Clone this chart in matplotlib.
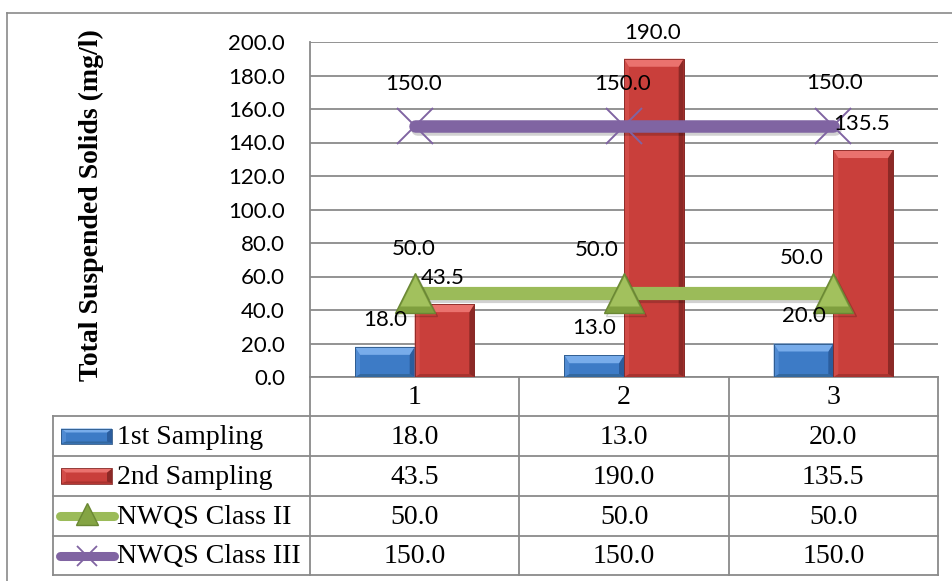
import matplotlib
matplotlib.use("Agg")
import matplotlib.pyplot as plt
import matplotlib.patheffects as pe
from matplotlib.patches import Polygon, Rectangle
from matplotlib.lines import Line2D
import numpy as np

# ---- data -------------------------------------------------------------
categories = ["1", "2", "3"]
first_sampling = [18.0, 13.0, 20.0]
second_sampling = [43.5, 190.0, 135.5]
class_ii = [50.0, 50.0, 50.0]
class_iii = [150.0, 150.0, 150.0]
series_names = ["1st Sampling", "2nd Sampling", "NWQS Class II", "NWQS Class III"]
y_ticks = [0, 20, 40, 60, 80, 100, 120, 140, 160, 180, 200]
y_title = "Total Suspended Solids (mg/l)"

# ---- styling ----------------------------------------------------------
W, H, DPI = 952, 581, 100
GRID = "#8a8a8a"
BLUE = dict(base="#3d7bc6", top="#78acea", left="#4f8ad2", right="#2b5d9d", bottom="#33689f", edge="#2a5585")
RED = dict(base="#c93f3b", top="#ea726e", left="#d24c48", right="#8c2926", bottom="#a8332f", edge="#862825")
GREEN = "#9bbb59"
GREEN_DARK = "#6a8734"
PURPLE = "#8064a2"
NUM_FONT = "Lato"
SERIF = "Liberation Serif"

fig = plt.figure(figsize=(W / DPI, H / DPI), dpi=DPI)
fig.patch.set_facecolor("white")


def fx(px):
    return px / W


def fy(py):
    return 1 - py / H


# outer chart frame (top and left edges)
fig.add_artist(Line2D([fx(7), fx(952)], [fy(13), fy(13)], color=GRID, lw=1.2))
fig.add_artist(Line2D([fx(7), fx(7)], [fy(13), fy(581)], color=GRID, lw=1.2))

# ---- plot area --------------------------------------------------------
PL, PR, PT, PB = 310, 938, 42, 377
ax = fig.add_axes([fx(PL), fy(PB), (PR - PL) / W, (PB - PT) / H])
n = len(categories)
ax.set_xlim(0.5, n + 0.5)
ax.set_ylim(0, 200)
ax.set_yticks(y_ticks)
ax.set_yticklabels([f"{v:.1f}" for v in y_ticks], fontfamily=NUM_FONT, fontsize=16)
ax.tick_params(axis="y", length=0, pad=18)
ax.set_xticks([])
ax.grid(axis="y", color=GRID, lw=1.3)
ax.set_axisbelow(True)
for s in ["top", "right"]:
    ax.spines[s].set_visible(False)
for s in ["left", "bottom"]:
    ax.spines[s].set_color(GRID)
    ax.spines[s].set_linewidth(1.3)

fig.text(fx(91), fy(205), y_title, rotation=90, ha="center", va="center",
         family=SERIF, weight="bold", fontsize=20)

# pixel scale of the data axes
(ox, oy), (ux, uy) = ax.transData.transform([(0, 0), (1, 1)])
PX_X, PX_Y = ux - ox, uy - oy

x = np.arange(1, n + 1)
bw = 0.285


def bevel_polys(x0, x1, y0, y1, side, top, bottom, pal):
    top = min(top, (y1 - y0) / 2.2)
    bottom = min(bottom, (y1 - y0) / 4)
    return [
        ([(x0, y0), (x1, y0), (x1, y1), (x0, y1)], pal["base"]),
        ([(x0, y0), (x1, y0), (x1 - side, y0 + bottom), (x0 + side, y0 + bottom)], pal["bottom"]),
        ([(x0, y0), (x0, y1), (x0 + side, y1 - top), (x0 + side, y0 + bottom)], pal["left"]),
        ([(x1, y0), (x1, y1), (x1 - side, y1 - top), (x1 - side, y0 + bottom)], pal["right"]),
        ([(x0, y1), (x1, y1), (x1 - side, y1 - top), (x0 + side, y1 - top)], pal["top"]),
    ]


def draw_bars(xs, values, pal):
    bars = ax.bar(xs, values, bw, color=pal["base"], edgecolor=pal["edge"], lw=0.6, zorder=3)
    for b in bars:
        x0 = b.get_x()
        x1 = x0 + b.get_width()
        h = b.get_height()
        for pts, col in bevel_polys(x0, x1, 0, h, 5 / PX_X, 8 / PX_Y, 3 / PX_Y, pal):
            ax.add_patch(Polygon(pts, closed=True, facecolor=col, edgecolor="none", zorder=3.1))
        ax.add_patch(Rectangle((x0, 0), x1 - x0, h, fill=False, edgecolor=pal["edge"], lw=0.6, zorder=3.2))
    return bars


bars1 = draw_bars(x - bw / 2, first_sampling, BLUE)
bars2 = draw_bars(x + bw / 2, second_sampling, RED)

shadow = [pe.SimpleLineShadow(offset=(1.5, -2), alpha=0.18, shadow_color="black"), pe.Normal()]

# NWQS Class III line
ax.plot(x, class_iii, color=PURPLE, lw=9, solid_capstyle="round", zorder=4, path_effects=shadow)
ax.plot(x, class_iii, ls="none", marker="x", ms=26, mew=1.4, mec=PURPLE, zorder=4.1)

# NWQS Class II line
ax.plot(x, class_ii, color=GREEN, lw=9.5, solid_capstyle="round", zorder=4, path_effects=shadow)
ax.plot(x, class_ii, ls="none", marker="^", ms=29, mfc="#7f9f3e", mec=GREEN_DARK, mew=1.0, zorder=4.2,
        path_effects=shadow)
ax.plot(x, class_ii, ls="none", marker="^", ms=21, mfc="#a2c15d", mec="none", zorder=4.3,
        transform=ax.transData + matplotlib.transforms.ScaledTranslation(0, 2 / DPI, fig.dpi_scale_trans))

# ---- data labels ------------------------------------------------------
lbl = dict(fontfamily=NUM_FONT, fontsize=16, ha="center", va="center", zorder=6,
           textcoords="offset points", annotation_clip=False)
PT_PER_PX = 72 / DPI
for b, v in zip(bars1, first_sampling):
    ax.annotate(f"{v:.1f}", (b.get_x() + b.get_width() / 2, v), xytext=(0, 27 * PT_PER_PX), **lbl)
for b, v in zip(bars2, second_sampling):
    ax.annotate(f"{v:.1f}", (b.get_x() + b.get_width() / 2, v), xytext=(-1, 26 * PT_PER_PX), **lbl)

class_ii_label_shift = [(-1, 44), (-27, 43), (-32, 35)]
class_iii_label_shift = [(-1, 42), (-1, 42), (1, 43)]
for xi, v, (sx, sy) in zip(x, class_ii, class_ii_label_shift):
    ax.annotate(f"{v:.1f}", (xi, v), xytext=(sx * PT_PER_PX, sy * PT_PER_PX), **lbl)
for xi, v, (sx, sy) in zip(x, class_iii, class_iii_label_shift):
    ax.annotate(f"{v:.1f}", (xi, v), xytext=(sx * PT_PER_PX, sy * PT_PER_PX), **lbl)

# ---- data table -------------------------------------------------------
col_edges = [ax.transData.transform((xi - 0.5, 0))[0] for xi in list(x) + [n + 1]]
row_edges = [PB, 416, 456, 496, 536, 575]
KEY_LEFT = 53


def hline(y, x0, x1):
    fig.add_artist(Line2D([fx(x0), fx(x1)], [fy(y), fy(y)], color=GRID, lw=1.3))


def vline(xp, y0, y1):
    fig.add_artist(Line2D([fx(xp), fx(xp)], [fy(y0), fy(y1)], color=GRID, lw=1.3))


for ce in col_edges:
    vline(ce, row_edges[0], row_edges[-1])
vline(KEY_LEFT, row_edges[1], row_edges[-1])
for ry in row_edges[1:]:
    hline(ry, KEY_LEFT, col_edges[-1])

tbl = dict(family=SERIF, fontsize=20, ha="center", va="center")
centers_x = [(col_edges[i] + col_edges[i + 1]) / 2 for i in range(n)]
row_centers = [(row_edges[i] + row_edges[i + 1]) / 2 for i in range(len(row_edges) - 1)]

for cx, cat in zip(centers_x, categories):
    fig.text(fx(cx), fy(row_centers[0] + 1), cat, **tbl)

table_rows = [first_sampling, second_sampling, class_ii, class_iii]
for r, (name, vals) in enumerate(zip(series_names, table_rows), start=1):
    cy = row_centers[r] + 1
    for cx, v in zip(centers_x, vals):
        fig.text(fx(cx), fy(cy), f"{v:.1f}", **tbl)
    fig.text(fx(117), fy(cy), name, family=SERIF, fontsize=20, ha="left", va="center")


# legend keys inside the table
def key_bar(cy, pal):
    x0, x1 = 61, 112
    y0, y1 = cy + 7.5, cy - 7.5  # image px (y down)
    X0, X1 = fx(x0), fx(x1)
    Y0, Y1 = fy(y0), fy(y1)
    for pts, col in bevel_polys(X0, X1, Y0, Y1, 5 / W, 4 / H, 2 / H, pal):
        fig.add_artist(Polygon(pts, closed=True, facecolor=col, edgecolor="none",
                               transform=fig.transFigure))
    fig.add_artist(Rectangle((X0, Y0), X1 - X0, Y1 - Y0, fill=False, edgecolor=pal["edge"], lw=0.6,
                             transform=fig.transFigure))


key_bar(row_centers[1], BLUE)
key_bar(row_centers[2], RED)

cy = row_centers[3]
fig.add_artist(Line2D([fx(60), fx(114)], [fy(cy), fy(cy)], color=GREEN, lw=6.5, solid_capstyle="round"))
fig.add_artist(Line2D([fx(87)], [fy(cy - 2)], ls="none", marker="^", ms=16, mfc="#84a443", mec=GREEN_DARK, mew=1.0))
cy = row_centers[4]
fig.add_artist(Line2D([fx(60), fx(114)], [fy(cy), fy(cy)], color=PURPLE, lw=6.5, solid_capstyle="round"))
fig.add_artist(Line2D([fx(87)], [fy(cy)], ls="none", marker="x", ms=15, mew=1.3, mec=PURPLE))

fig.savefig("out.png", dpi=DPI, facecolor="white")
